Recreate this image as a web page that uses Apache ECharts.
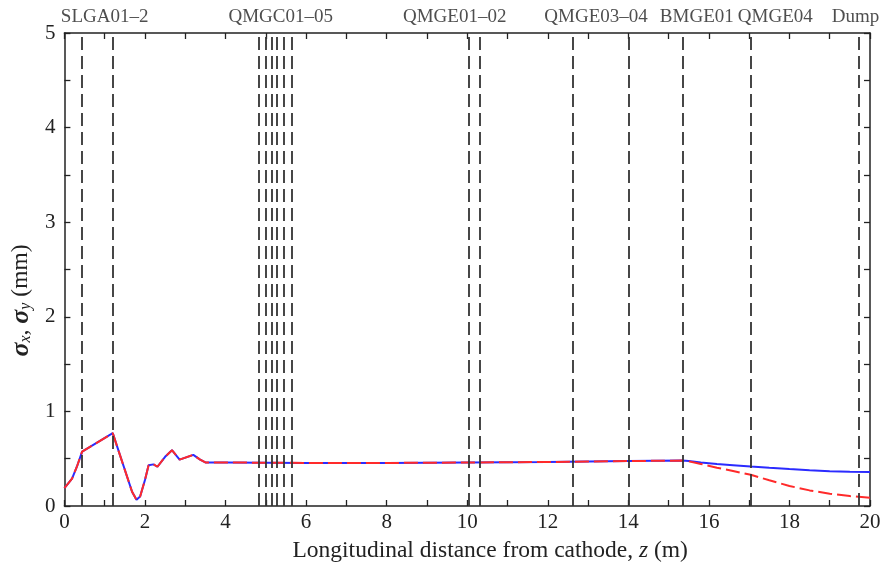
<!DOCTYPE html>
<html><head><meta charset="utf-8">
<script src="https://cdn.jsdelivr.net/npm/echarts@6/dist/echarts.min.js"></script>
<style>html,body{margin:0;padding:0;background:#fff}#c{width:884px;height:568px}</style>
</head><body><div id="c"></div>
<script>
// z positions (m)
var zPoints = [0, 0.19, 0.31, 0.44, 1.2, 1.68, 1.79, 1.88, 2.0, 2.09, 2.21, 2.31, 2.5, 2.67, 2.86, 3.2, 3.37, 3.5, 4, 6, 8, 10, 12, 14, 15.34, 15.5, 15.8, 16.2, 16.6, 17.04, 17.5, 18, 18.5, 19, 19.5, 20];
// sigma_x (blue, solid) in mm
var sigmaX = [0.19, 0.29, 0.415, 0.574, 0.77, 0.15, 0.065, 0.1, 0.275, 0.43, 0.44, 0.415, 0.52, 0.59, 0.49, 0.54, 0.49, 0.46, 0.46, 0.455, 0.455, 0.46, 0.465, 0.475, 0.48, 0.475, 0.46, 0.445, 0.432, 0.418, 0.404, 0.39, 0.378, 0.368, 0.362, 0.36];
// sigma_y (red, dashed) in mm
var sigmaY = [0.19, 0.29, 0.415, 0.574, 0.77, 0.15, 0.065, 0.1, 0.275, 0.43, 0.44, 0.415, 0.52, 0.59, 0.49, 0.54, 0.49, 0.46, 0.46, 0.455, 0.455, 0.46, 0.465, 0.475, 0.48, 0.472, 0.445, 0.405, 0.37, 0.33, 0.272, 0.212, 0.165, 0.13, 0.105, 0.088];
// element positions (dashed vertical lines)
var elementZ = [0.44, 1.21, 4.83, 5.0, 5.14, 5.27, 5.45, 5.65, 10.05, 10.3, 12.61, 14.0, 15.34, 17.04, 19.73];
// element group labels
var groupNames = ['SLGA01\u20132', 'QMGC01\u201305', 'QMGE01\u201302', 'QMGE03\u201304', 'BMGE01', 'QMGE04', 'Dump'];
var groupLabelZ = [1.0, 5.37, 9.69, 13.2, 15.7, 17.65, 19.64];

var FONT = '"Liberation Serif", "DejaVu Serif", serif';
var axisCol = '#222';

function pairs(xs, ys){ return xs.map(function(x,i){ return [x, ys[i]]; }); }

var chart = echarts.init(document.getElementById('c'));
var baseX = {
  type: 'value', min: 0, max: 20, interval: 1,
  axisLine: {show: true, onZero: false, lineStyle: {color: axisCol, width: 1.5}},
  axisTick: {show: true, inside: true, length: 6, lineStyle: {color: axisCol, width: 1.3}},
  splitLine: {show: false}
};
var baseY = {
  type: 'value', min: 0, max: 5, interval: 0.5,
  axisLine: {show: true, onZero: false, lineStyle: {color: axisCol, width: 1.5}},
  axisTick: {show: true, inside: true, length: 6, lineStyle: {color: axisCol, width: 1.3}},
  splitLine: {show: false}
};

var option = {
  animation: false,
  backgroundColor: '#fff',
  grid: {left: 64, right: 14, top: 33, bottom: 62},
  xAxis: [
    Object.assign({}, baseX, {
      position: 'bottom',
      axisLabel: {show: true, margin: 6, color: '#222', fontFamily: FONT, fontSize: 21,
        formatter: function(v){ return (Math.round(v) % 2 === 0) ? String(v) : ''; }},
      name: 'Longitudinal distance from cathode, {i|z} (m)',
      nameLocation: 'middle', nameGap: 33,
      nameTextStyle: {color: '#222', fontFamily: FONT, fontSize: 23.5, padding: [0, 0, 0, 46],
        rich: {i: {fontStyle: 'italic', fontFamily: FONT, fontSize: 23.5, color: '#222'}}}
    }),
    Object.assign({}, baseX, {position: 'top', axisLabel: {show: false}})
  ],
  yAxis: [
    Object.assign({}, baseY, {
      position: 'left',
      axisLabel: {show: true, margin: 9, color: '#222', fontFamily: FONT, fontSize: 21,
        formatter: function(v){ return (Math.abs(v - Math.round(v)) < 1e-6) ? String(Math.round(v)) : ''; }},
      name: '{s|\u03c3}{sub|x}{n|, }{s|\u03c3}{sub|y}{n| (mm)}',
      nameLocation: 'middle', nameGap: 30, nameRotate: 90,
      nameTextStyle: {
        padding: [0, 62, 0, 0],
        rich: {
          s: {fontStyle: 'italic', fontWeight: 'bold', fontFamily: FONT, fontSize: 26, color: '#222'},
          sub: {fontStyle: 'italic', fontFamily: FONT, fontSize: 16, color: '#222', verticalAlign: 'bottom', padding: [10, 0, 0, 0]},
          n: {fontFamily: FONT, fontSize: 23.5, color: '#222'}
        }
      }
    }),
    Object.assign({}, baseY, {position: 'right', axisLabel: {show: false}})
  ],
  series: [
    {
      type: 'line', name: 'sigma_x', data: pairs(zPoints, sigmaX),
      showSymbol: false, symbol: 'none',
      lineStyle: {color: '#2b2bff', width: 2}, z: 3,
      markLine: {
        silent: true, symbol: ['none', 'none'], animation: false,
        label: {show: false},
        lineStyle: {color: '#333', type: [13, 6], width: 1.8},
        data: elementZ.map(function(z){ return {xAxis: z}; })
      }
    },
    {
      type: 'line', name: 'sigma_y', data: pairs(zPoints, sigmaY),
      showSymbol: false, symbol: 'none',
      lineStyle: {color: '#ff2a2a', width: 2, type: [14, 5]}, z: 4
    },
    {
      type: 'scatter', name: 'labels', symbolSize: 0.01,
      data: groupLabelZ.map(function(z, i){ return {value: [z, 5], name: groupNames[i]}; }),
      clip: false, silent: true,
      label: {show: true, position: 'top', distance: 6, formatter: '{b}',
        color: '#222', fontFamily: FONT, fontSize: 19}
    }
  ]
};
chart.setOption(option);
</script>
</body></html>
